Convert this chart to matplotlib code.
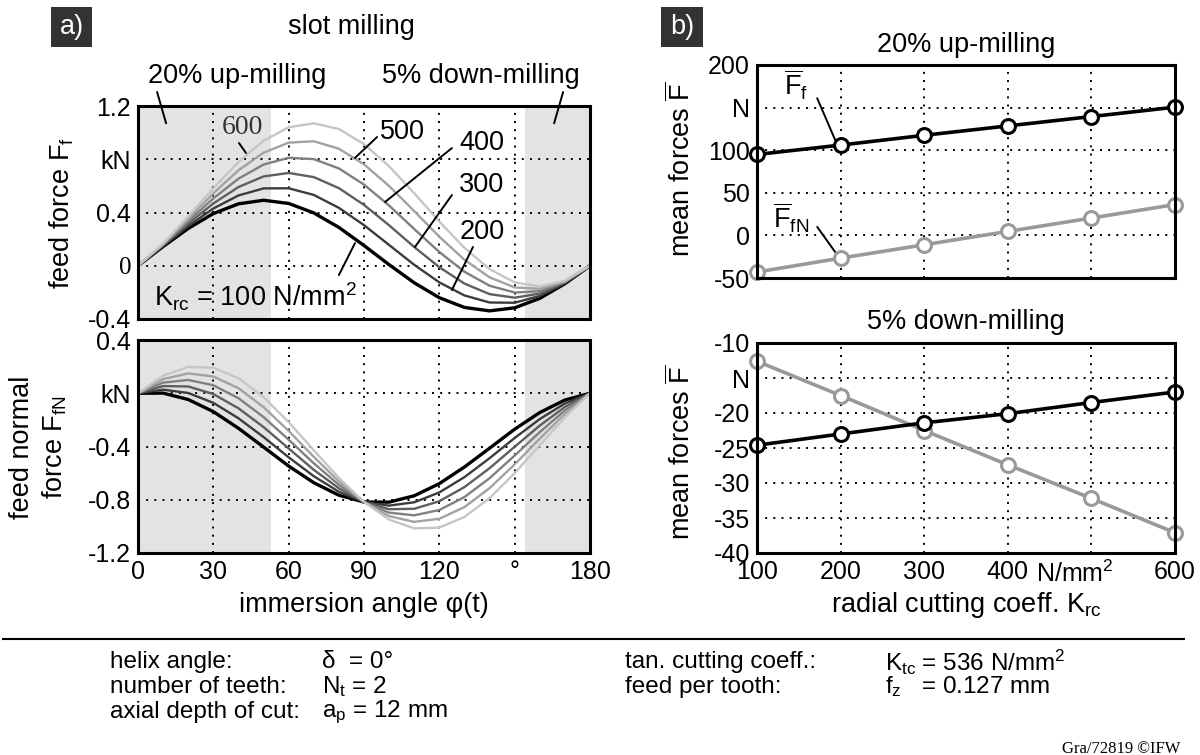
import matplotlib
matplotlib.use('Agg')
from matplotlib import pyplot as plt
from matplotlib.lines import Line2D
from matplotlib.patches import Rectangle
import matplotlib.transforms as mtrans

plt.rcParams['font.family'] = ['Liberation Sans', 'DejaVu Sans']
plt.rcParams['mathtext.fontset'] = 'custom'
plt.rcParams['mathtext.rm'] = 'Liberation Sans'
plt.rcParams['mathtext.it'] = 'Liberation Sans'
plt.rcParams['mathtext.bf'] = 'Liberation Sans:bold'

# immersion angle (deg) and forces in kN
phi = [0, 10, 20, 30, 40, 50, 60, 70, 80, 90, 100, 110, 120, 130, 140, 150, 160, 170, 180]

ff_100 = [0, 0.144, 0.280, 0.392, 0.465, 0.492, 0.468, 0.397, 0.288, 0.152, 0.008, -0.128, -0.240, -0.313, -0.339, -0.316, -0.245, -0.135, 0]
ff_200 = [0, 0.149, 0.298, 0.430, 0.528, 0.581, 0.582, 0.532, 0.435, 0.305, 0.156, 0.007, -0.125, -0.223, -0.276, -0.278, -0.227, -0.131, 0]
ff_300 = [0, 0.154, 0.316, 0.468, 0.591, 0.671, 0.697, 0.666, 0.583, 0.457, 0.304, 0.141, -0.011, -0.134, -0.213, -0.240, -0.209, -0.126, 0]
ff_400 = [0, 0.158, 0.334, 0.506, 0.654, 0.760, 0.811, 0.801, 0.731, 0.610, 0.452, 0.276, 0.103, -0.045, -0.150, -0.201, -0.191, -0.121, 0]
ff_500 = [0, 0.163, 0.352, 0.544, 0.717, 0.849, 0.925, 0.935, 0.879, 0.762, 0.599, 0.410, 0.218, 0.045, -0.087, -0.163, -0.173, -0.117, 0]
ff_600 = [0, 0.167, 0.370, 0.582, 0.780, 0.939, 1.040, 1.070, 1.027, 0.914, 0.747, 0.545, 0.332, 0.134, -0.025, -0.125, -0.156, -0.112, 0]

fn_100 = [0, 0.001, -0.047, -0.138, -0.263, -0.404, -0.547, -0.672, -0.766, -0.817, -0.818, -0.770, -0.679, -0.554, -0.413, -0.270, -0.145, -0.051, 0]
fn_200 = [0, 0.027, 0.002, -0.072, -0.188, -0.329, -0.481, -0.623, -0.740, -0.817, -0.844, -0.819, -0.745, -0.630, -0.488, -0.336, -0.194, -0.077, 0]
fn_300 = [0, 0.054, 0.051, -0.006, -0.113, -0.254, -0.415, -0.575, -0.714, -0.817, -0.871, -0.868, -0.811, -0.705, -0.563, -0.402, -0.243, -0.103, 0]
fn_400 = [0, 0.080, 0.100, 0.060, -0.037, -0.179, -0.349, -0.526, -0.688, -0.817, -0.897, -0.917, -0.877, -0.780, -0.638, -0.468, -0.292, -0.129, 0]
fn_500 = [0, 0.106, 0.149, 0.126, 0.038, -0.104, -0.283, -0.477, -0.662, -0.817, -0.923, -0.966, -0.943, -0.855, -0.713, -0.534, -0.341, -0.155, 0]
fn_600 = [0, 0.132, 0.198, 0.192, 0.113, -0.029, -0.217, -0.428, -0.636, -0.817, -0.949, -1.015, -1.009, -0.929, -0.788, -0.600, -0.390, -0.181, 0]

ff_curves = [ff_100, ff_200, ff_300, ff_400, ff_500, ff_600]
fn_curves = [fn_100, fn_200, fn_300, fn_400, fn_500, fn_600]
curve_colors = ['#000000', '#3c3c3c', '#5e5e5e', '#808080', '#a2a2a2', '#c6c6c6']
curve_widths = [2.4, 1.7, 1.7, 1.7, 1.7, 1.7]

# up-milling ends at 53.13 deg, down-milling starts at 154.16 deg
up_end = 53.13
down_start = 154.16

# mean forces in N vs radial cutting coefficient
k_rc = [100, 200, 300, 400, 500, 600]
up_ff = [95, 106, 117.5, 128.5, 139.5, 150.5]
up_ffn = [-43, -26.7, -11, 4.7, 20.4, 36.2]
down_ff = [-24.6, -23.0, -21.4, -20.1, -18.5, -17.0]
down_ffn = [-12.6, -17.5, -22.5, -27.4, -32.2, -37.1]

W, H = 1200, 755
fig = plt.figure(figsize=(12, 7.55), dpi=100)

def fx(px):
    return px / W

def fy(py):
    return 1 - py / H

def axes_px(x0, y0, x1, y1):
    return fig.add_axes([fx(x0), fy(y1), (x1 - x0) / W, (y1 - y0) / H])

tick_fs = 18
lab_fs = 19.5
tab_fs = 17.5
grid_kw = dict(color='black', linestyle=(0, (1, 3.2)), linewidth=1.4)

def style(ax):
    for s in ax.spines.values():
        s.set_linewidth(2.2)
        s.set_zorder(10)
    ax.tick_params(length=0, labelsize=tick_fs, pad=5)
    ax.grid(True, **grid_kw)
    ax.set_axisbelow(False)

# ---- left top: feed force
ax1 = axes_px(138, 106, 590, 319)
ax1.axvspan(0, up_end, color='#e3e3e3', lw=0, zorder=0)
ax1.axvspan(down_start, 180, color='#e3e3e3', lw=0, zorder=0)
for y, c, w in zip(ff_curves, curve_colors, curve_widths):
    ax1.plot(phi, y, color=c, lw=w, zorder=3)
ax1.set_xlim(0, 180)
ax1.set_ylim(-0.4, 1.2)
ax1.set_xticks([0, 30, 60, 90, 120, 150, 180])
ax1.set_xticklabels([])
ax1.set_yticks([-0.4, 0, 0.4, 0.8, 1.2])
lbls = ax1.set_yticklabels(['-0.4', '0', '0.4', 'kN', '1.2'])
lbls[1].set_fontfamily('Liberation Serif')
lbls[1].set_fontsize(20)
style(ax1)

lead = dict(arrowstyle='-', color='black', lw=1.4, shrinkA=0, shrinkB=0)
ax1.text(41.4, 1.042, '600', fontsize=20, family='Liberation Serif', color='#333333',
         ha='center', va='center', zorder=6)
ax1.annotate('', xy=(43, 0.847), xytext=(40.2, 0.922), arrowprops=lead, zorder=6)
for lab, tx, ty, x0, y0, x1, y1 in [('500', 105.5, 1.005, 95.2, 0.967, 86.4, 0.81),
                                   ('400', 137, 0.922, 125, 0.884, 98.4, 0.479),
                                   ('300', 137, 0.606, 125, 0.531, 110.3, 0.141),
                                   ('200', 137, 0.253, 133.4, 0.141, 125, -0.182)]:
    ax1.text(tx, ty, lab, fontsize=lab_fs, ha='center', va='center', zorder=6)
    ax1.annotate('', xy=(x1, y1), xytext=(x0, y0), arrowprops=lead, zorder=6)
ax1.text(6.4, -0.23, 'K$_{\\mathrm{rc}}$ = 100 N/mm$^2$', fontsize=lab_fs, ha='left', va='center', zorder=6)
ax1.annotate('', xy=(86.4, 0.17), xytext=(80, -0.07), arrowprops=lead, zorder=6)
ax1.annotate('', xy=(11.2, 1.07), xytext=(7.6, 1.305), arrowprops=lead, annotation_clip=False, zorder=6)
ax1.annotate('', xy=(165.7, 1.07), xytext=(169.3, 1.305), arrowprops=lead, annotation_clip=False, zorder=6)

# ---- left bottom: feed normal force
ax2 = axes_px(138, 340, 590, 553)
ax2.axvspan(0, up_end, color='#e3e3e3', lw=0, zorder=0)
ax2.axvspan(down_start, 180, color='#e3e3e3', lw=0, zorder=0)
for y, c, w in zip(fn_curves, curve_colors, curve_widths):
    ax2.plot(phi, y, color=c, lw=w, zorder=3)
ax2.set_xlim(0, 180)
ax2.set_ylim(-1.2, 0.4)
ax2.set_xticks([0, 30, 60, 90, 120, 150, 180])
ax2.set_xticklabels(['0', '30', '60', '90', '120', '°', '180'])
ax2.set_yticks([-1.2, -0.8, -0.4, 0, 0.4])
ax2.set_yticklabels(['-1.2', '-0.8', '-0.4', 'kN', '0.4'])
style(ax2)

# ---- right top: 20% up-milling
ax3 = axes_px(757, 65, 1175, 278)
ax3.plot(k_rc, up_ff, color='black', lw=2.6, marker='o', ms=10, mfc='white', mec='black', mew=2.2,
         clip_on=False, zorder=5)
ax3.plot(k_rc, up_ffn, color='#999999', lw=2.6, marker='o', ms=10, mfc='white', mec='#999999', mew=2.2,
         clip_on=False, zorder=5)
ax3.set_xlim(100, 600)
ax3.set_ylim(-50, 200)
ax3.set_xticks(k_rc)
ax3.set_xticklabels([])
ax3.set_yticks([-50, 0, 50, 100, 150, 200])
ax3.set_yticklabels(['-50', '0', '50', '100', 'N', '200'])
style(ax3)
ax3.text(147, 176.5, '$\\overline{\\mathrm{F}}_{\\mathrm{f}}$', fontsize=lab_fs, ha='center', va='center')
ax3.annotate('', xy=(193.5, 112), xytext=(172, 161), arrowprops=lead)
ax3.text(141, 20.4, '$\\overline{\\mathrm{F}}_{\\mathrm{fN}}$', fontsize=lab_fs, ha='center', va='center')
ax3.annotate('', xy=(193.5, -19.5), xytext=(172, 10), arrowprops=lead)

# ---- right bottom: 5% down-milling
ax4 = axes_px(757, 343, 1175, 553)
ax4.plot(k_rc, down_ffn, color='#999999', lw=2.6, marker='o', ms=10, mfc='white', mec='#999999', mew=2.2,
         clip_on=False, zorder=5)
ax4.plot(k_rc, down_ff, color='black', lw=2.6, marker='o', ms=10, mfc='white', mec='black', mew=2.2,
         clip_on=False, zorder=6)
ax4.set_xlim(100, 600)
ax4.set_ylim(-40, -10)
ax4.set_xticks(k_rc)
ax4.set_xticklabels(['100', '200', '300', '400', '', '600'])
ax4.set_yticks([-40, -35, -30, -25, -20, -15, -10])
ax4.set_yticklabels(['-40', '-35', '-30', '-25', '-20', 'N', '-10'])
style(ax4)
tr = mtrans.blended_transform_factory(ax4.transData, fig.transFigure)
ax4.text(434, fy(574), 'N/mm$^2$', transform=tr, fontsize=tick_fs, ha='left', va='center')

# ---- labels
fig.text(fx(62), fy(213), 'feed force F$_{\\mathrm{f}}$', rotation=90, fontsize=lab_fs, ha='center', va='center')
fig.text(fx(39), fy(447), 'feed normal\nforce F$_{\\mathrm{fN}}$', rotation=90, fontsize=lab_fs,
         ha='center', va='center', linespacing=1.25)
fig.text(fx(681), fy(169), 'mean forces $\\overline{\\mathrm{F}}$', rotation=90, fontsize=lab_fs, ha='center', va='center')
fig.text(fx(681), fy(452), 'mean forces $\\overline{\\mathrm{F}}$', rotation=90, fontsize=lab_fs, ha='center', va='center')
fig.text(fx(364), fy(605), 'immersion angle φ(t)', fontsize=lab_fs, ha='center', va='center')
fig.text(fx(966), fy(605), 'radial cutting coeff. K$_{\\mathrm{rc}}$', fontsize=lab_fs, ha='center', va='center')

fig.text(fx(351), fy(27), 'slot milling', fontsize=lab_fs, ha='center', va='center')
fig.text(fx(237), fy(76), '20% up-milling', fontsize=lab_fs, ha='center', va='center')
fig.text(fx(382), fy(76), '5% down-milling', fontsize=lab_fs, ha='left', va='center')
fig.text(fx(966), fy(45), '20% up-milling', fontsize=lab_fs, ha='center', va='center')
fig.text(fx(966), fy(322), '5% down-milling', fontsize=lab_fs, ha='center', va='center')

for x0, x1, lab in [(51, 92, 'a)'), (661, 703, 'b)')]:
    fig.add_artist(Rectangle((fx(x0), fy(47)), (x1 - x0) / W, 40 / H, transform=fig.transFigure,
                             facecolor='#333333', edgecolor='none'))
    fig.text(fx((x0 + x1) / 2), fy(27), lab, color='white', fontsize=lab_fs, ha='center', va='center')

# ---- parameter table
fig.add_artist(Line2D([fx(3), fx(1184)], [fy(639), fy(639)], color='black', lw=1.5, transform=fig.transFigure))
rows_y = [662, 687, 712]
left_names = ['helix angle:', 'number of teeth:', 'axial depth of cut:']
left_vals = ['δ  = 0°', 'N$_{\\mathrm{t}}$ = 2', 'a$_{\\mathrm{p}}$ = 12 mm']
right_names = ['tan. cutting coeff.:', 'feed per tooth:']
right_vals = ['K$_{\\mathrm{tc}}$ = 536 N/mm$^2$', 'f$_{\\mathrm{z}}$   = 0.127 mm']
for y, n, v in zip(rows_y, left_names, left_vals):
    fig.text(fx(110), fy(y), n, fontsize=tab_fs, ha='left', va='center')
    fig.text(fx(322), fy(y), v, fontsize=tab_fs, ha='left', va='center')
for y, n, v in zip(rows_y, right_names, right_vals):
    fig.text(fx(625), fy(y), n, fontsize=tab_fs, ha='left', va='center')
    fig.text(fx(885), fy(y), v, fontsize=tab_fs, ha='left', va='center')
fig.text(fx(1062), fy(749), 'Gra/72819 ©IFW', fontsize=12, family='Liberation Serif', ha='left', va='center')

fig.savefig('out.png', dpi=100)
